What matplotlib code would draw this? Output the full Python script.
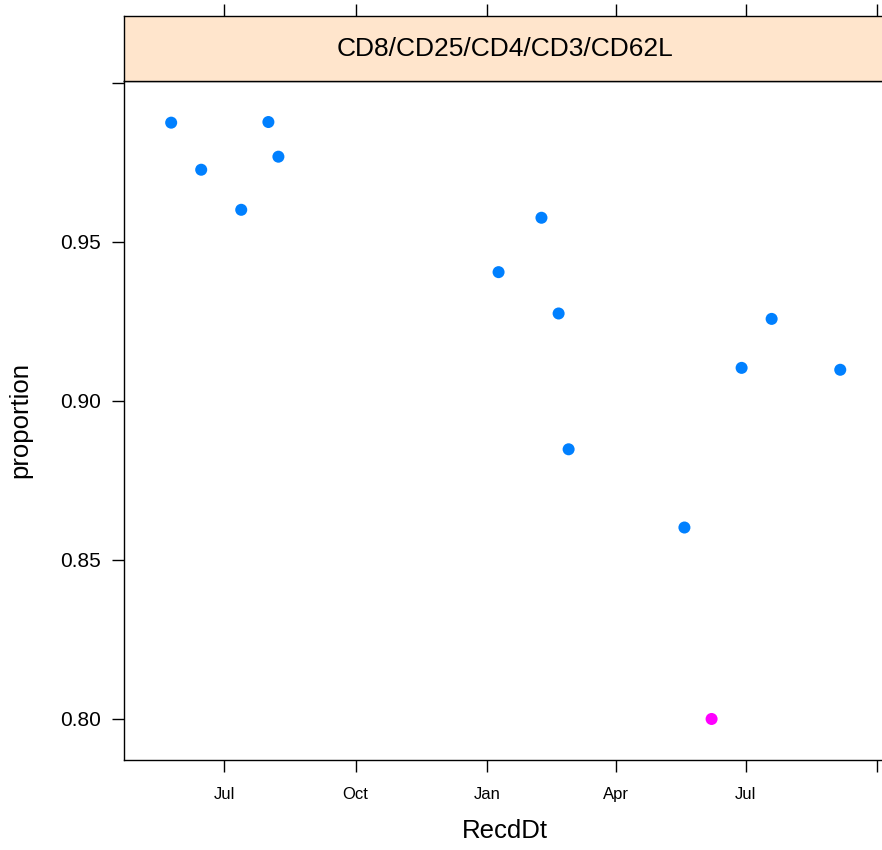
import matplotlib
matplotlib.use("Agg")
import matplotlib.pyplot as plt
from datetime import date

plt.rcParams['font.family'] = ['Liberation Sans', 'DejaVu Sans']

# values
recd_dt = [
    date(2012, 5, 25), date(2012, 6, 15), date(2012, 7, 13), date(2012, 8, 1),
    date(2012, 8, 8), date(2013, 1, 9), date(2013, 2, 8), date(2013, 2, 20),
    date(2013, 2, 27), date(2013, 5, 19), date(2013, 6, 7), date(2013, 6, 28),
    date(2013, 7, 19), date(2013, 9, 5),
]
proportion = [
    0.9875, 0.9727, 0.9601, 0.9877, 0.9768, 0.9405, 0.9576, 0.9275,
    0.8848, 0.8602, 0.8000, 0.9104, 0.9258, 0.9098,
]
flagged = [False] * 10 + [True] + [False] * 3

x_ticks = [date(2012, 7, 1), date(2012, 10, 1), date(2013, 1, 1),
           date(2013, 4, 1), date(2013, 7, 1), date(2013, 10, 1)]
x_labels = ["Jul", "Oct", "Jan", "Apr", "Jul", ""]
y_ticks = [0.80, 0.85, 0.90, 0.95, 1.00]
y_labels = ["0.80", "0.85", "0.90", "0.95", ""]
strip_title = "CD8/CD25/CD4/CD3/CD62L"

fig = plt.figure(figsize=(8.82, 8.5), dpi=100)
ax = fig.add_axes([124 / 882, 90 / 850, 762 / 882, 679 / 850])
strip = fig.add_axes([124 / 882, 769 / 850, 762 / 882, 65 / 850], sharex=ax)

cols = ["#FF00FF" if f else "#0080FF" for f in flagged]
ax.scatter(recd_dt, proportion, s=75, c=cols, edgecolors="none", zorder=3)

ax.set_xlim(date(2012, 4, 22), date(2013, 10, 7))
ax.set_ylim(0.7871, 1.0006)

ax.set_xticks(x_ticks)
ax.set_xticklabels(x_labels, fontsize=12)
ax.set_yticks(y_ticks)
ax.set_yticklabels(y_labels, fontsize=15)
ax.tick_params(direction="out", length=8.6, width=1.0, pad=8)
ax.tick_params(axis="x", pad=11)
for s in ax.spines.values():
    s.set_linewidth(1.0)

ax.set_xlabel("RecdDt", fontsize=18.5, labelpad=12)
ax.set_ylabel("proportion", fontsize=18.5, labelpad=20)

strip.set_facecolor("#FFE5CC")
strip.set_yticks([])
strip.tick_params(axis="x", which="both", bottom=False, top=True,
                  labelbottom=False, labeltop=False,
                  direction="out", length=8.6, width=1.0)
for s in strip.spines.values():
    s.set_linewidth(1.0)
strip.text(0.5, 0.5, strip_title, transform=strip.transAxes,
           ha="center", va="center", fontsize=19)

fig.savefig("out.png", dpi=100)
